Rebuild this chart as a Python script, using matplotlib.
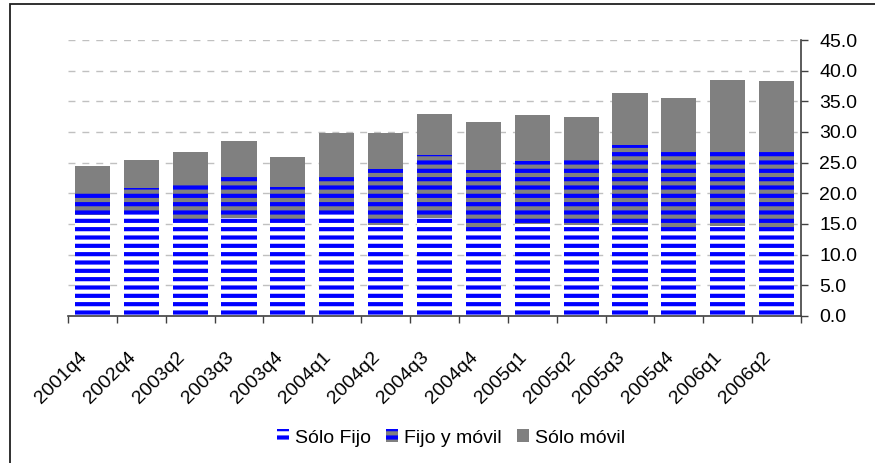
import matplotlib
matplotlib.use("Agg")
import matplotlib.pyplot as plt
from matplotlib.patches import Rectangle, Patch
from matplotlib.transforms import ScaledTranslation
import numpy as np

plt.rcParams['font.family'] = ['Liberation Sans', 'DejaVu Sans']
plt.rcParams['hatch.linewidth'] = 3.0

# Data
periods = ["2001q4", "2002q4", "2003q2", "2003q3", "2003q4", "2004q1", "2004q2",
           "2004q3", "2004q4", "2005q1", "2005q2", "2005q3", "2005q4", "2006q1", "2006q2"]
solo_fijo = [16.4, 16.9, 15.6, 16.0, 15.3, 16.9, 14.9, 16.0, 14.1, 15.0, 14.9, 14.8, 14.3, 14.7, 13.9]
fijo_y_movil = [3.9, 4.0, 5.7, 7.3, 5.7, 6.0, 9.0, 10.3, 9.7, 10.2, 10.5, 13.1, 12.4, 12.0, 13.2]
solo_movil = [4.1, 4.5, 5.5, 5.3, 5.0, 6.9, 6.0, 6.7, 7.8, 7.6, 7.1, 8.5, 8.9, 11.7, 11.2]
y_ticks = [0, 5, 10, 15, 20, 25, 30, 35, 40, 45]

BLUE = "#0000ff"
GRAY = "#808080"

fig = plt.figure(figsize=(8.75, 4.63), dpi=100)
ax = fig.add_axes([68 / 875, 1 - 316 / 463, (801 - 68) / 875, (316 - 40) / 463])

x = np.arange(len(periods))
w = 0.72
sf = np.array(solo_fijo)
fm = np.array(fijo_y_movil)
sm = np.array(solo_movil)

ax.bar(x, sf, w, color="white", edgecolor=BLUE, hatch="--", linewidth=0, zorder=2)
ax.bar(x, fm, w, bottom=sf, color=GRAY, edgecolor=BLUE, hatch="--", linewidth=0, zorder=2)
ax.bar(x, sm, w, bottom=sf + fm, color=GRAY, linewidth=0, zorder=2)

ax.set_xlim(-0.5, len(periods) - 0.5)
ax.set_ylim(0, 45)

# Right-hand value axis
ax.yaxis.tick_right()
ax.set_yticks(y_ticks)
ax.set_yticklabels([f"{v:.1f}" for v in y_ticks], fontsize=14)
ax.tick_params(axis="y", direction="out", length=5, width=1, color="#404040", pad=8)
ax.yaxis.grid(True, color="#c0c0c0", linestyle=(0, (5, 5)), linewidth=1, zorder=0)
ax.set_axisbelow(True)

# Category axis: ticks between categories, labels at centres
ax.set_xticks(np.arange(len(periods) + 1) - 0.5)
ax.set_xticklabels([])
ax.set_xticks(x, minor=True)
ax.set_xticklabels(periods, minor=True, rotation=45, ha="right", va="center",
                   rotation_mode="anchor", fontsize=14)
ax.tick_params(axis="x", which="major", direction="out", length=5, width=1, color="#404040")
ax.tick_params(axis="x", which="minor", length=0, pad=28)
shift = ScaledTranslation(-8 / 100, 0, fig.dpi_scale_trans)
for lbl in ax.get_xticklabels(minor=True):
    lbl.set_transform(lbl.get_transform() + shift)

for side in ("left", "top"):
    ax.spines[side].set_visible(False)
for side in ("bottom", "right"):
    ax.spines[side].set_color("#404040")
    ax.spines[side].set_linewidth(1.2)

handles = [
    Patch(facecolor="white", edgecolor=BLUE, hatch="--", linewidth=0),
    Patch(facecolor=GRAY, edgecolor=BLUE, hatch="--", linewidth=0),
    Patch(facecolor=GRAY, linewidth=0),
]
fig.legend(handles, ["Sólo Fijo", "Fijo y móvil", "Sólo móvil"], loc="center",
           bbox_to_anchor=(451 / 875, 1 - 438 / 463), ncol=3, frameon=False,
           fontsize=14, handlelength=0.6, handleheight=0.6, handletextpad=0.3,
           columnspacing=0.8)

# Outer frame
fig.patches.append(Rectangle((10 / 875, -0.1), 1.2, 1 - 4 / 463 + 0.1,
                             transform=fig.transFigure, fill=False,
                             edgecolor="#202020", linewidth=1.3))

fig.savefig("out.png", dpi=100)
